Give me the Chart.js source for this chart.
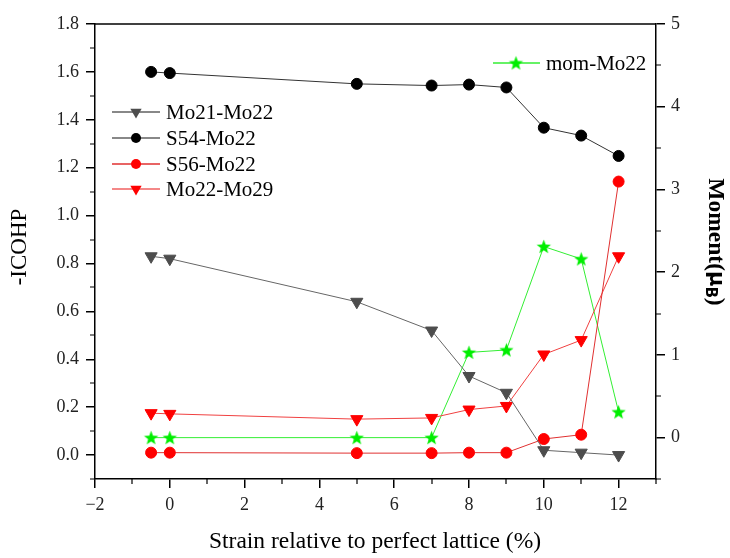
<!DOCTYPE html>
<html><head><meta charset="utf-8">
<script src="https://cdn.jsdelivr.net/npm/chart.js@4/dist/chart.umd.min.js"></script>
<style>html,body{margin:0;padding:0;background:#fff}</style>
</head><body>
<canvas id="c" width="730" height="558" style="width:730px;height:558px;display:block"></canvas>
<script>
const strain = [-0.5, 0, 5, 7, 8, 9, 10, 11, 12];
const mo21Mo22 = [0.83, 0.82, 0.64, 0.52, 0.33, 0.26, 0.02, 0.01, 0.0];
const s54Mo22 = [1.60, 1.595, 1.55, 1.543, 1.547, 1.535, 1.367, 1.334, 1.249];
const s56Mo22 = [0.01, 0.01, 0.008, 0.008, 0.01, 0.01, 0.067, 0.085, 1.142];
const mo22Mo29 = [0.175, 0.172, 0.15, 0.155, 0.19, 0.205, 0.42, 0.48, 0.83];
const momMo22 = [0, 0, 0, 0, 1.03, 1.06, 2.31, 2.16, 0.31];
const xTicks = [-2, 0, 2, 4, 6, 8, 10, 12];
const leftTicks = [0, 0.2, 0.4, 0.6, 0.8, 1.0, 1.2, 1.4, 1.6, 1.8];
const rightTicks = [0, 1, 2, 3, 4, 5];
const xMinor = [-1, 1, 3, 5, 7, 9, 11, 13];
const leftMinor = [-0.1, 0.1, 0.3, 0.5, 0.7, 0.9, 1.1, 1.3, 1.5, 1.7];
const rightMinor = [-0.5, 0.5, 1.5, 2.5, 3.5, 4.5];

const FONT = '"Liberation Serif", "Times New Roman", serif';

function makeStar(color, R) {
  const c = document.createElement('canvas');
  const s = Math.ceil(R * 2 + 2);
  c.width = s; c.height = s;
  const g = c.getContext('2d');
  g.fillStyle = color;
  g.beginPath();
  const cx = s / 2, cy = s / 2 + 0.6, r = R * 0.42;
  for (let i = 0; i < 10; i++) {
    const a = -Math.PI / 2 + i * Math.PI / 5;
    const rr = i % 2 === 0 ? R : r;
    g.lineTo(cx + rr * Math.cos(a), cy + rr * Math.sin(a));
  }
  g.closePath();
  g.fill();
  return c;
}
const star = makeStar('#00ee00', 7.5);

const pts = arr => strain.map((x, i) => ({x: x, y: arr[i]}));

const datasets = [
  {label: 'Mo21-Mo22', data: pts(mo21Mo22), yAxisID: 'y', borderColor: '#666666', backgroundColor: '#4d4d4d',
   pointBorderColor: '#4d4d4d', pointStyle: 'triangle', rotation: 180, pointRadius: 7, borderWidth: 1},
  {label: 'S54-Mo22', data: pts(s54Mo22), yAxisID: 'y', borderColor: '#333333', backgroundColor: '#000000',
   pointBorderColor: '#000000', pointStyle: 'circle', pointRadius: 5.5, borderWidth: 1},
  {label: 'S56-Mo22', data: pts(s56Mo22), yAxisID: 'y', borderColor: '#e03030', backgroundColor: '#ff0000',
   pointBorderColor: '#ff0000', pointStyle: 'circle', pointRadius: 5.5, borderWidth: 1},
  {label: 'Mo22-Mo29', data: pts(mo22Mo29), yAxisID: 'y', borderColor: '#f04040', backgroundColor: '#ff0000',
   pointBorderColor: '#ff0000', pointStyle: 'triangle', rotation: 180, pointRadius: 7, borderWidth: 1},
  {label: 'mom-Mo22', data: pts(momMo22), yAxisID: 'y1', borderColor: '#33ee33', backgroundColor: '#00ee00',
   pointBorderColor: '#00ee00', pointStyle: star, pointRadius: 7, borderWidth: 1}
];

function drawMarker(ctx, ds, x, y) {
  ctx.save();
  ctx.fillStyle = ds.backgroundColor;
  ctx.strokeStyle = ds.pointBorderColor;
  if (ds.pointStyle === 'circle') {
    ctx.beginPath(); ctx.arc(x, y, ds.pointRadius - 0.5, 0, Math.PI * 2); ctx.fill();
  } else if (ds.pointStyle === 'triangle') {
    const r = ds.pointRadius;
    ctx.beginPath();
    ctx.moveTo(x - r * 0.87, y - r * 0.5);
    ctx.lineTo(x + r * 0.87, y - r * 0.5);
    ctx.lineTo(x, y + r);
    ctx.closePath(); ctx.fill();
  } else {
    ctx.drawImage(ds.pointStyle, x - ds.pointStyle.width / 2, y - ds.pointStyle.height / 2);
  }
  ctx.restore();
}

const decor = {
  id: 'decor',
  afterDraw(chart) {
    const ctx = chart.ctx, ca = chart.chartArea;
    const xs = chart.scales.x, ys = chart.scales.y, y1 = chart.scales.y1;
    ctx.save();
    ctx.strokeStyle = '#000'; ctx.lineWidth = 1.5;
    // top border
    ctx.beginPath(); ctx.moveTo(ca.left, ca.top); ctx.lineTo(ca.right, ca.top); ctx.stroke();
    // minor ticks
    ctx.lineWidth = 1.2;
    ctx.beginPath();
    xMinor.forEach(v => { const p = Math.round(xs.getPixelForValue(v)); ctx.moveTo(p, ca.bottom); ctx.lineTo(p, ca.bottom + 5); });
    leftMinor.forEach(v => { const p = Math.round(ys.getPixelForValue(v)); ctx.moveTo(ca.left, p); ctx.lineTo(ca.left - 5, p); });
    rightMinor.forEach(v => { const p = Math.round(y1.getPixelForValue(v)); ctx.moveTo(ca.right, p); ctx.lineTo(ca.right + 5, p); });
    ctx.stroke();

    // axis titles
    ctx.fillStyle = '#000';
    ctx.font = '23.5px ' + FONT;
    ctx.textAlign = 'center'; ctx.textBaseline = 'middle';
    ctx.fillText('Strain relative to perfect lattice (%)', 375, 542);
    ctx.save();
    ctx.translate(20, 247); ctx.rotate(-Math.PI / 2);
    ctx.font = '23px ' + FONT;
    ctx.fillText('-ICOHP', 0, 0);
    ctx.restore();
    // right title bold with subscript
    ctx.save();
    ctx.translate(715, 242); ctx.rotate(Math.PI / 2);
    const a = 'Moment(', mu = 'μ', b = 'B', c = ')';
    const bigFont = 'bold 23.5px ' + FONT, muFont = 'bold 21px "DejaVu Sans", sans-serif', subFont = 'bold 15px "DejaVu Sans", sans-serif';
    ctx.font = bigFont; const wa = ctx.measureText(a).width, wc = ctx.measureText(c).width;
    ctx.font = muFont; const wm = ctx.measureText(mu).width;
    ctx.font = subFont; const wb = ctx.measureText(b).width;
    let x0 = -(wa + wm + wb + wc) / 2;
    ctx.textAlign = 'left';
    ctx.font = bigFont; ctx.fillText(a, x0, 0); x0 += wa;
    ctx.font = muFont; ctx.fillText(mu, x0, 0); x0 += wm;
    ctx.font = subFont; ctx.fillText(b, x0, 5); x0 += wb;
    ctx.font = bigFont; ctx.fillText(c, x0, 0);
    ctx.restore();

    // legends
    ctx.font = '21px ' + FONT;
    ctx.textAlign = 'left'; ctx.textBaseline = 'middle';
    const legendLines = ['#888888', '#888888', '#e03030', '#f06060'];
    const ly = [112, 138, 164, 189];
    for (let i = 0; i < 4; i++) {
      const ds = datasets[i];
      ctx.strokeStyle = legendLines[i]; ctx.lineWidth = i < 2 ? 1.8 : 1.3;
      ctx.beginPath(); ctx.moveTo(112, ly[i]); ctx.lineTo(160, ly[i]); ctx.stroke();
      drawMarker(ctx, Object.assign({}, ds, {pointRadius: ds.pointStyle === 'triangle' ? 6.5 : ds.pointRadius}), 136, ly[i]);
      ctx.fillStyle = '#000';
      ctx.fillText(ds.label, 166, ly[i] + 1);
    }
    const dm = datasets[4];
    ctx.strokeStyle = '#33ee33'; ctx.lineWidth = 1.3;
    ctx.beginPath(); ctx.moveTo(493, 63); ctx.lineTo(540, 63); ctx.stroke();
    drawMarker(ctx, dm, 516, 63);
    ctx.fillStyle = '#000';
    ctx.fillText(dm.label, 546, 64);
    ctx.restore();
  }
};

const tickFont = {family: FONT, size: 18};
function setTicks(arr) { return function (scale) { scale.ticks = arr.map(v => ({value: v})); }; }

new Chart(document.getElementById('c'), {
  type: 'line',
  data: {datasets: datasets},
  options: {
    responsive: false,
    animation: false,
    devicePixelRatio: 1,
    layout: {padding: {top: 24, left: 0, right: 0, bottom: 0}},
    plugins: {legend: {display: false}, tooltip: {enabled: false}},
    elements: {line: {tension: 0}},
    scales: {
      x: {
        type: 'linear', min: -2, max: 13,
        afterBuildTicks: setTicks(xTicks),
        afterFit: s => { s.height = 79; },
        ticks: {font: tickFont, color: '#222', padding: 6, maxRotation: 0,
                callback: v => (v < 0 ? '\u2212' + Math.abs(v) : String(v))},
        grid: {drawOnChartArea: false, tickLength: 9, color: '#000', lineWidth: 1.5},
        border: {color: '#000', width: 1.5}
      },
      y: {
        type: 'linear', position: 'left', min: -0.1, max: 1.8,
        afterBuildTicks: setTicks(leftTicks),
        afterFit: s => { s.width = 95; },
        ticks: {font: tickFont, color: '#222', padding: 7, callback: v => v.toFixed(1)},
        grid: {drawOnChartArea: false, tickLength: 9, color: '#000', lineWidth: 1.5},
        border: {color: '#000', width: 1.5}
      },
      y1: {
        type: 'linear', position: 'right', min: -0.5, max: 5,
        afterBuildTicks: setTicks(rightTicks),
        afterFit: s => { s.width = 74; },
        ticks: {font: tickFont, color: '#222', padding: 6, callback: v => String(v)},
        grid: {drawOnChartArea: false, tickLength: 9, color: '#000', lineWidth: 1.5},
        border: {color: '#000', width: 1.5}
      }
    }
  },
  plugins: [decor]
});
</script>
</body></html>
